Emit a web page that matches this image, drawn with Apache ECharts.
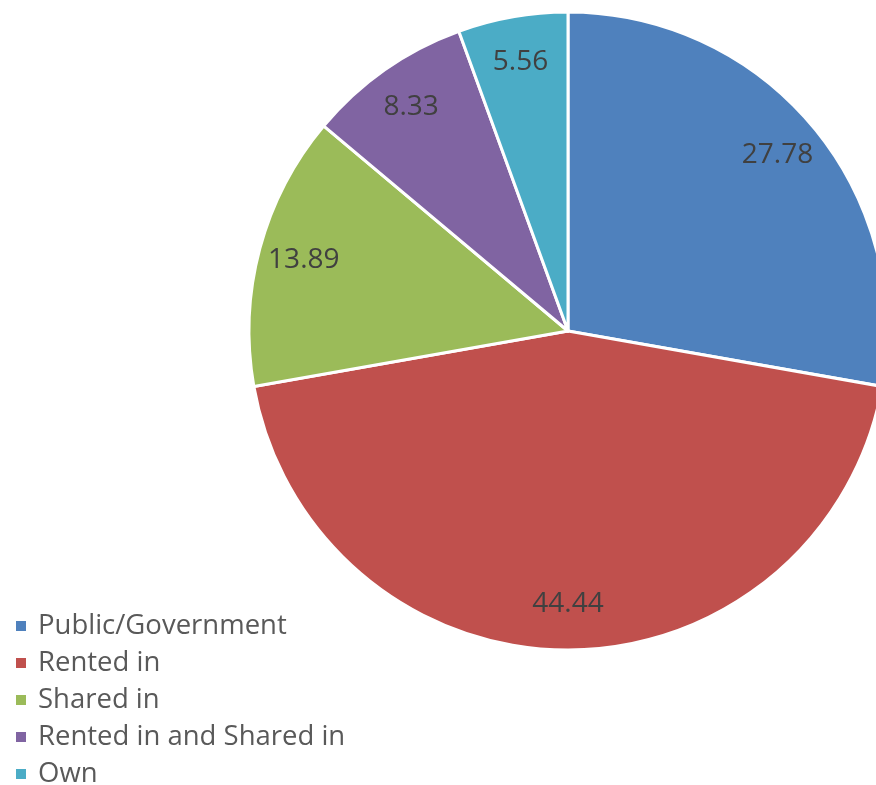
<!DOCTYPE html>
<html>
<head>
<meta charset="utf-8">
<script src="https://cdn.jsdelivr.net/npm/echarts@6/dist/echarts.min.js"></script>
<style>
  html, body { margin: 0; padding: 0; background: #fff; }
  #chart { width: 876px; height: 785px; }
</style>
</head>
<body>
<div id="chart"></div>
<script>
// Tenure of the dwelling, share of households (%)
const categories = ['Public/Government', 'Rented in', 'Shared in', 'Rented in and Shared in', 'Own'];
const shares = [27.78, 44.44, 13.89, 8.33, 5.56];
const palette = ['#4F81BD', '#C0504D', '#9BBB59', '#8064A2', '#4BACC6'];

const FONT = '"Open Sans", sans-serif';
const pieData = categories.map((name, i) => ({ name, value: shares[i] }));

const chart = echarts.init(document.getElementById('chart'), null, { renderer: 'canvas' });

chart.setOption({
  animation: false,
  color: palette,
  legend: {
    orient: 'vertical',
    left: 14,
    top: 612,
    height: 200,
    padding: 0,
    icon: 'rect',
    itemWidth: 12,
    itemHeight: 12,
    itemGap: 9,
    textStyle: {
      fontFamily: FONT, fontSize: 27.5, lineHeight: 28, color: '#595959',
      padding: [0, 0, 0, 6]
    },
    data: categories
  },
  series: [
    {
      // filled slices
      type: 'pie',
      center: [568, 331],
      radius: [0, 319],
      startAngle: 90,
      clockwise: true,
      silent: true,
      label: { show: false },
      labelLine: { show: false },
      itemStyle: { borderColor: '#ffffff', borderWidth: 3 },
      data: pieData
    },
    {
      // value labels near the outer edge of each slice
      type: 'pie',
      center: [568, 331],
      radius: [222, 319],
      startAngle: 90,
      clockwise: true,
      silent: true,
      itemStyle: { color: 'rgba(0,0,0,0)', borderWidth: 0 },
      label: {
        show: true,
        position: 'inside',
        formatter: (p) => shares[p.dataIndex].toFixed(2),
        fontFamily: FONT,
        fontSize: 28,
        color: '#404040'
      },
      labelLine: { show: false },
      data: pieData
    }
  ]
});
</script>
</body>
</html>
